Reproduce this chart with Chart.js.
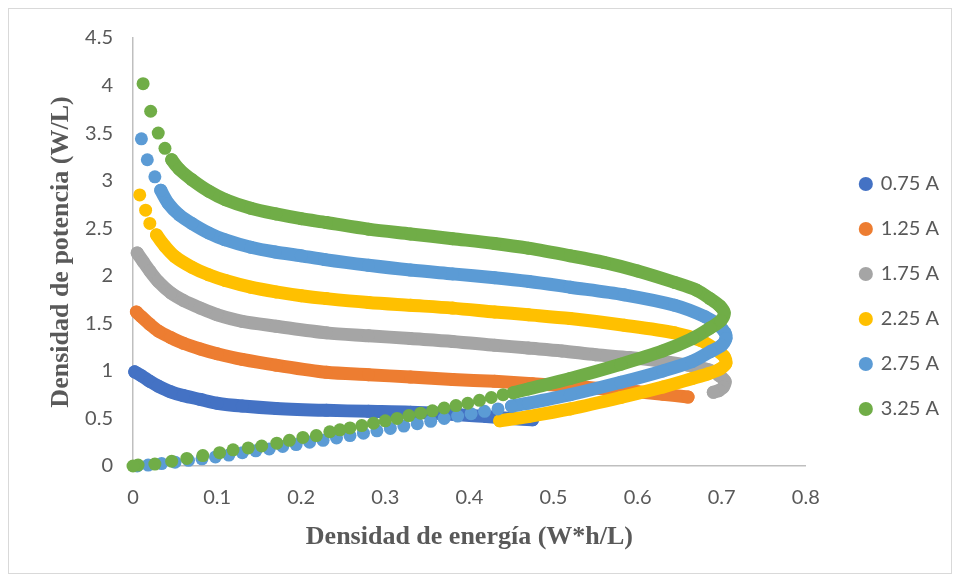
<!DOCTYPE html>
<html>
<head>
<meta charset="utf-8">
<script src="https://cdn.jsdelivr.net/npm/chart.js@4.4.1/dist/chart.umd.min.js"></script>
<style>
  html, body { margin: 0; padding: 0; background: #fff; }
  #wrap { position: relative; width: 960px; height: 581px; }
  #wrap canvas { position: absolute; left: 0; top: 0; }
  #frame { position: absolute; left: 8px; top: 8px; width: 942px; height: 564px; border: 1px solid #d9d9d9; pointer-events: none; }
</style>
</head>
<body>
<div id="wrap">
  <canvas id="ragone" width="960" height="581"></canvas>
  <div id="frame"></div>
</div>
<script>
// Corrientes de descarga
const labels = ['0.75 A', '1.25 A', '1.75 A', '2.25 A', '2.75 A', '3.25 A'];
const colors = ['#4472c4', '#ed7d31', '#a5a5a5', '#ffc000', '#5b9bd5', '#70ad47'];

// Densidad de energía (W*h/L) y densidad de potencia (W/L) por corriente
const energy075 = [0.002, 0.010, 0.020, 0.030, 0.045, 0.060, 0.080, 0.100, 0.130, 0.170, 0.230, 0.280, 0.330, 0.380, 0.420, 0.450, 0.475];
const power075  = [0.99, 0.95, 0.89, 0.84, 0.78, 0.74, 0.70, 0.66, 0.63, 0.605, 0.585, 0.575, 0.565, 0.545, 0.52, 0.50, 0.485];

const energy125 = [0.004, 0.010, 0.020, 0.030, 0.045, 0.060, 0.080, 0.100, 0.130, 0.170, 0.230, 0.280, 0.330, 0.380, 0.430, 0.475, 0.520, 0.560, 0.600, 0.630, 0.660];
const power125  = [1.62, 1.57, 1.49, 1.42, 1.35, 1.29, 1.23, 1.18, 1.12, 1.06, 0.985, 0.96, 0.935, 0.91, 0.89, 0.865, 0.84, 0.81, 0.78, 0.755, 0.725];

const energy175 = [0.005, 0.012, 0.020, 0.030, 0.045, 0.060, 0.080, 0.100, 0.130, 0.170, 0.230, 0.280, 0.330, 0.380, 0.430, 0.470, 0.510, 0.550, 0.590, 0.630, 0.660, 0.685, 0.697, 0.704, 0.702, 0.697, 0.690];
const power175  = [2.24, 2.15, 2.05, 1.94, 1.82, 1.74, 1.66, 1.59, 1.52, 1.47, 1.40, 1.37, 1.34, 1.31, 1.27, 1.24, 1.21, 1.17, 1.14, 1.10, 1.06, 1.01, 0.95, 0.89, 0.83, 0.795, 0.775];

const energy225 = [0.008, 0.015, 0.020, 0.028, 0.038, 0.050, 0.070, 0.090, 0.110, 0.140, 0.170, 0.200, 0.230, 0.280, 0.330, 0.380, 0.430, 0.470, 0.520, 0.584, 0.644, 0.675, 0.692, 0.703, 0.705, 0.698, 0.684, 0.665, 0.630, 0.580, 0.520, 0.470, 0.436];
const power225  = [2.85, 2.69, 2.55, 2.43, 2.31, 2.20, 2.09, 2.01, 1.95, 1.88, 1.83, 1.79, 1.76, 1.72, 1.69, 1.66, 1.62, 1.59, 1.55, 1.48, 1.40, 1.32, 1.23, 1.15, 1.08, 1.02, 0.97, 0.92, 0.83, 0.72, 0.60, 0.52, 0.475];

const energy275 = [0.010, 0.017, 0.026,
  0.033, 0.042, 0.055, 0.070, 0.090, 0.109, 0.140, 0.169, 0.200, 0.228, 0.280, 0.330, 0.380, 0.430, 0.471, 0.520, 0.584, 0.644, 0.680, 0.696, 0.704, 0.705, 0.700, 0.686, 0.665, 0.630, 0.580, 0.520, 0.470, 0.450,
  0.434, 0.418, 0.402, 0.386, 0.370, 0.354, 0.338, 0.322, 0.306, 0.290, 0.274, 0.258, 0.242, 0.226, 0.210, 0.194, 0.178, 0.162, 0.146, 0.130, 0.114, 0.098, 0.082, 0.066, 0.050, 0.034, 0.018, 0.005];
const power275  = [3.44, 3.22, 3.04,
  2.90, 2.76, 2.64, 2.55, 2.45, 2.38, 2.30, 2.25, 2.21, 2.17, 2.11, 2.06, 2.02, 1.98, 1.94, 1.88, 1.80, 1.69, 1.57, 1.48, 1.40, 1.34, 1.27, 1.20, 1.10, 1.00, 0.88, 0.75, 0.66, 0.63,
  0.60, 0.575, 0.55, 0.525, 0.50, 0.47, 0.445, 0.42, 0.395, 0.37, 0.345, 0.32, 0.295, 0.27, 0.25, 0.225, 0.205, 0.18, 0.16, 0.14, 0.115, 0.095, 0.075, 0.06, 0.04, 0.025, 0.01, 0.0];

const energy325 = [0.012, 0.021, 0.030, 0.038,
  0.046, 0.055, 0.070, 0.090, 0.110, 0.140, 0.170, 0.200, 0.230, 0.280, 0.330, 0.380, 0.430, 0.470, 0.520, 0.560, 0.600, 0.644, 0.670, 0.686, 0.698, 0.703, 0.699, 0.686, 0.665, 0.630, 0.580, 0.520, 0.470, 0.452,
  0.440, 0.426, 0.412, 0.398, 0.384, 0.370, 0.356, 0.342, 0.328, 0.314, 0.300, 0.286, 0.272, 0.258, 0.246, 0.234, 0.218, 0.202, 0.186, 0.171, 0.153, 0.137, 0.119, 0.103, 0.083, 0.064, 0.046, 0.026, 0.006, 0.000];
const power325  = [4.02, 3.73, 3.50, 3.34,
  3.22, 3.12, 3.01, 2.89, 2.80, 2.71, 2.65, 2.60, 2.56, 2.49, 2.44, 2.39, 2.34, 2.29, 2.21, 2.14, 2.05, 1.93, 1.85, 1.76, 1.68, 1.61, 1.53, 1.45, 1.34, 1.21, 1.07, 0.92, 0.81, 0.77,
  0.75, 0.72, 0.69, 0.66, 0.635, 0.61, 0.58, 0.555, 0.53, 0.50, 0.475, 0.45, 0.425, 0.40, 0.38, 0.36, 0.32, 0.30, 0.27, 0.24, 0.21, 0.19, 0.17, 0.14, 0.11, 0.08, 0.05, 0.02, 0.01, 0.00];

const energies = [energy075, energy125, energy175, energy225, energy275, energy325];
const powers = [power075, power125, power175, power225, power275, power325];

// puntos sueltos (no unidos) al inicio y al final de cada serie
const looseHead = [0, 0, 0, 3, 3, 4];
const looseTail = [0, 0, 0, 0, 28, 30];

const xTicks = [0, 0.1, 0.2, 0.3, 0.4, 0.5, 0.6, 0.7, 0.8];
const yTicks = [0, 0.5, 1, 1.5, 2, 2.5, 3, 3.5, 4, 4.5];

const grey = '#595959';
const tickFont = { family: 'Lato', size: 20 };
const titleFont = { family: 'Liberation Serif', size: 26, weight: 'bold' };

const datasets = labels.map(function(label, i) {
  const pts = energies[i].map(function(e, k) { return { x: e, y: powers[i][k] }; });
  const n = pts.length;
  return {
    label: label,
    data: pts,
    order: labels.length - i,
    showLine: true,
    clip: false,
    tension: 0.3,
    borderWidth: 13,
    borderCapStyle: 'round',
    borderJoinStyle: 'round',
    borderColor: colors[i],
    backgroundColor: colors[i],
    pointRadius: 6.5,
    pointHoverRadius: 6.5,
    pointBorderWidth: 0,
    pointBackgroundColor: colors[i],
    segment: {
      borderColor: function(ctx) {
        if (ctx.p0DataIndex < looseHead[i] || ctx.p1DataIndex > n - 1 - looseTail[i]) {
          return 'rgba(0,0,0,0)';
        }
        return colors[i];
      }
    }
  };
});

function fmt(v) { return String(+v.toFixed(2)); }

new Chart(document.getElementById('ragone'), {
  type: 'scatter',
  data: { datasets: datasets },
  options: {
    responsive: false,
    animation: false,
    layout: { padding: { left: 8, top: 38, right: 11, bottom: 26 } },
    plugins: {
      legend: {
        position: 'right',
        labels: {
          usePointStyle: true,
          pointStyle: 'circle',
          boxWidth: 10,
          boxHeight: 10,
          padding: 25,
          color: grey,
          font: tickFont,
          sort: function(a, b) { return a.datasetIndex - b.datasetIndex; }
        }
      },
      tooltip: { enabled: false }
    },
    scales: {
      x: {
        type: 'linear',
        min: 0,
        max: 0.8,
        afterBuildTicks: function(s) { s.ticks = xTicks.map(function(v) { return { value: v }; }); },
        afterFit: function(s) { s.height = 89; },
        grid: { display: false, drawTicks: false },
        border: { display: true, color: '#bfbfbf', width: 1.5 },
        ticks: { color: grey, font: tickFont, padding: 20, callback: fmt, maxRotation: 0 },
        title: {
          display: true,
          text: 'Densidad de energía (W*h/L)',
          color: grey,
          font: titleFont,
          padding: { top: 0, bottom: 2 }
        }
      },
      y: {
        type: 'linear',
        min: 0,
        max: 4.5,
        afterBuildTicks: function(s) { s.ticks = yTicks.map(function(v) { return { value: v }; }); },
        afterFit: function(s) { s.width = 125; },
        grid: { display: false, drawTicks: false },
        border: { display: true, color: '#bfbfbf', width: 1.5 },
        ticks: { color: grey, font: tickFont, padding: 20, callback: fmt },
        title: {
          display: true,
          text: 'Densidad de potencia (W/L)',
          color: grey,
          font: titleFont,
          padding: { top: 38, bottom: 0 }
        }
      },
      gap: {
        type: 'linear',
        position: 'right',
        display: true,
        afterFit: function(s) { s.width = 30; },
        grid: { display: false, drawTicks: false },
        border: { display: false },
        ticks: { display: false }
      }
    }
  }
});
</script>
</body>
</html>
